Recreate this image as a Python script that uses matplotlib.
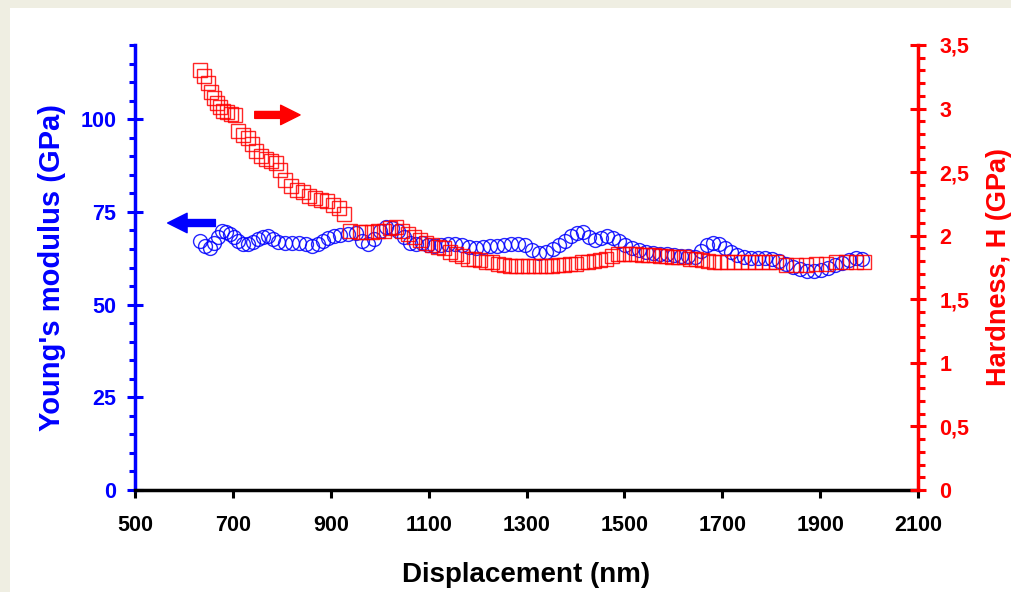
import numpy as np
import matplotlib.pyplot as plt
from matplotlib.patches import Rectangle, FancyArrowPatch
from matplotlib.ticker import MultipleLocator, FixedLocator

plt.rcParams['font.family'] = ['Liberation Sans', 'DejaVu Sans']

# Young's modulus series (displacement nm, E GPa)
disp_e = [633, 643, 653, 661, 670, 678, 686, 694, 702, 711, 721, 731, 741, 751, 762, 772,
          782, 792, 807, 821, 835, 850, 862, 874, 884, 894, 907, 919, 935, 952, 964, 976,
          989, 1001, 1013, 1025, 1038, 1050, 1062, 1074, 1087, 1099, 1111, 1125, 1140, 1154,
          1168, 1183, 1197, 1211, 1226, 1240, 1254, 1269, 1283, 1297, 1311, 1326, 1340, 1354,
          1367, 1379, 1391, 1403, 1416, 1428, 1440, 1453, 1465, 1477, 1489, 1502, 1516, 1530,
          1545, 1559, 1573, 1587, 1602, 1616, 1630, 1645, 1657, 1669, 1681, 1694, 1706, 1718,
          1730, 1745, 1759, 1773, 1788, 1802, 1816, 1831, 1845, 1859, 1874, 1888, 1902, 1917,
          1931, 1945, 1959, 1974, 1986]
young = [67.2, 65.9, 65.3, 66.7, 68.3, 69.9, 69.6, 69.1, 68.3, 67.2, 66.4, 66.4, 66.9, 67.7,
         68.3, 68.5, 67.7, 66.9, 66.7, 66.7, 66.7, 66.4, 65.9, 66.4, 67.2, 68.0, 68.5, 68.8,
         69.1, 69.4, 67.2, 66.4, 67.7, 69.9, 71.0, 70.7, 69.9, 68.3, 66.7, 66.4, 66.7, 66.1,
         65.9, 66.1, 66.4, 66.4, 66.1, 65.6, 65.3, 65.6, 65.9, 65.9, 66.1, 66.4, 66.4, 66.1,
         64.8, 64.0, 64.2, 65.1, 66.1, 67.2, 68.5, 69.4, 69.6, 68.3, 67.5, 68.0, 68.5, 68.0,
         67.2, 66.1, 65.3, 64.8, 64.2, 64.0, 63.7, 63.7, 63.4, 63.2, 63.2, 62.9, 64.5, 66.1,
         66.7, 66.4, 65.3, 64.2, 63.4, 62.9, 62.6, 62.6, 62.6, 62.4, 61.8, 61.0, 60.2, 59.7,
         59.1, 59.1, 59.4, 59.9, 60.7, 61.3, 62.1, 62.6, 62.4]

# Hardness series (displacement nm, H GPa)
disp_h = [633, 641, 649, 655, 661, 668, 674, 680, 688, 696, 704, 711, 721, 731, 739, 747,
          758, 768, 778, 788, 796, 807, 819, 831, 843, 856, 868, 880, 892, 905, 917, 927,
          939, 960, 972, 984, 997, 1009, 1021, 1033, 1046, 1058, 1070, 1083, 1095, 1107, 1119,
          1132, 1144, 1156, 1168, 1181, 1193, 1205, 1217, 1230, 1242, 1254, 1267, 1279, 1291,
          1303, 1316, 1328, 1340, 1352, 1365, 1377, 1389, 1401, 1414, 1426, 1438, 1450, 1463,
          1475, 1487, 1500, 1512, 1524, 1536, 1549, 1561, 1573, 1585, 1598, 1610, 1622, 1634,
          1647, 1659, 1671, 1683, 1696, 1710, 1724, 1739, 1753, 1767, 1782, 1796, 1810, 1831,
          1851, 1872, 1892, 1912, 1933, 1953, 1974, 1990]
hardness = [3.30, 3.26, 3.20, 3.13, 3.08, 3.04, 3.01, 2.98, 2.97, 2.96, 2.95, 2.82, 2.79, 2.77,
            2.72, 2.67, 2.63, 2.60, 2.59, 2.57, 2.52, 2.44, 2.39, 2.36, 2.34, 2.31, 2.30, 2.28,
            2.27, 2.24, 2.22, 2.17, 2.04, 2.03, 2.03, 2.03, 2.04, 2.04, 2.06, 2.07, 2.04, 2.01,
            1.99, 1.97, 1.94, 1.93, 1.91, 1.90, 1.87, 1.86, 1.84, 1.82, 1.82, 1.81, 1.79, 1.79,
            1.78, 1.77, 1.76, 1.76, 1.76, 1.76, 1.76, 1.76, 1.76, 1.76, 1.77, 1.77, 1.78, 1.78,
            1.79, 1.79, 1.80, 1.81, 1.82, 1.84, 1.86, 1.86, 1.86, 1.86, 1.85, 1.85, 1.85, 1.84,
            1.84, 1.83, 1.83, 1.83, 1.82, 1.82, 1.81, 1.80, 1.79, 1.79, 1.79, 1.79, 1.79, 1.79,
            1.79, 1.79, 1.79, 1.79, 1.77, 1.77, 1.77, 1.78, 1.78, 1.79, 1.79, 1.79, 1.79]

x_ticks = [500, 700, 900, 1100, 1300, 1500, 1700, 1900, 2100]
e_ticks = [0, 25, 50, 75, 100]
h_ticks = [0, 0.5, 1, 1.5, 2, 2.5, 3, 3.5]
h_labels = ['0', '0,5', '1', '1,5', '2', '2,5', '3', '3,5']

BLUE = '#0000ff'
RED = '#ff0000'

fig = plt.figure(figsize=(10.11, 5.92), dpi=100, facecolor='#efeee2')
fig.patches.append(Rectangle((10 / 1011, 0), 1, 1 - 8 / 592, transform=fig.transFigure,
                             facecolor='white', edgecolor='none', zorder=-10))

ax = fig.add_axes([135 / 1011, 1 - 490 / 592, 783 / 1011, 445 / 592])
ax.patch.set_alpha(0)
ax2 = ax.twinx()

ax.plot(disp_e, young, ls='none', marker='o', ms=10, mfc='none', mec=BLUE, mew=1.0, alpha=0.85)
ax2.plot(disp_h, hardness, ls='none', marker='s', ms=10, mfc='none', mec=RED, mew=1.0, alpha=0.85)

ax.set_xlim(500, 2100)
ax.set_ylim(0, 120)
ax2.set_ylim(0, 3.5)

# spines
for s in ['top', 'right']:
    ax.spines[s].set_visible(False)
for s in ['top', 'left', 'bottom']:
    ax2.spines[s].set_visible(False)
ax.spines['left'].set_color(BLUE)
ax.spines['left'].set_linewidth(2.5)
ax.spines['bottom'].set_color('black')
ax.spines['bottom'].set_linewidth(2.5)
ax2.spines['right'].set_color(RED)
ax2.spines['right'].set_linewidth(2.5)

# ticks
ax.xaxis.set_major_locator(FixedLocator(x_ticks))
ax.tick_params(axis='x', which='major', direction='out', length=6, width=2.2,
               colors='black', labelsize=15.5, pad=12)
ax.yaxis.set_major_locator(FixedLocator(e_ticks))
ax.yaxis.set_minor_locator(MultipleLocator(5))
ax.tick_params(axis='y', which='major', direction='inout', length=11, width=2.2,
               colors=BLUE, labelsize=15.5, pad=8)
ax.tick_params(axis='y', which='minor', direction='out', length=4, width=2.2, colors=BLUE)

ax2.yaxis.set_major_locator(FixedLocator(h_ticks))
ax2.set_yticklabels(h_labels)
ax2.yaxis.set_minor_locator(MultipleLocator(0.1))
ax2.tick_params(axis='y', which='major', direction='inout', length=11, width=2.2,
                colors=RED, labelsize=15.5, pad=10)
ax2.tick_params(axis='y', which='minor', direction='out', length=5, width=2.2, colors=RED)

for lab in ax.get_xticklabels() + ax.get_yticklabels() + ax2.get_yticklabels():
    lab.set_fontweight('bold')

ax.set_xlabel('Displacement (nm)', fontsize=20, fontweight='bold', labelpad=19)
ax.set_ylabel("Young's modulus (GPa)", fontsize=21, fontweight='bold', color=BLUE, labelpad=10)
ax2.set_ylabel('Hardness, H (GPa)', fontsize=19.5, fontweight='bold', color=RED, labelpad=12)

# direction arrows
arr_b = FancyArrowPatch((670, 72.0), (561, 72.0), arrowstyle='simple,head_length=14,head_width=14,tail_width=5',
                        mutation_scale=1, color=BLUE, transform=ax.transData)
ax.add_patch(arr_b)
arr_r = FancyArrowPatch((739, 2.95), (843, 2.95), arrowstyle='simple,head_length=14,head_width=14,tail_width=5',
                        mutation_scale=1, color=RED, transform=ax2.transData)
ax2.add_patch(arr_r)

fig.savefig('out.png', dpi=100, facecolor=fig.get_facecolor())
